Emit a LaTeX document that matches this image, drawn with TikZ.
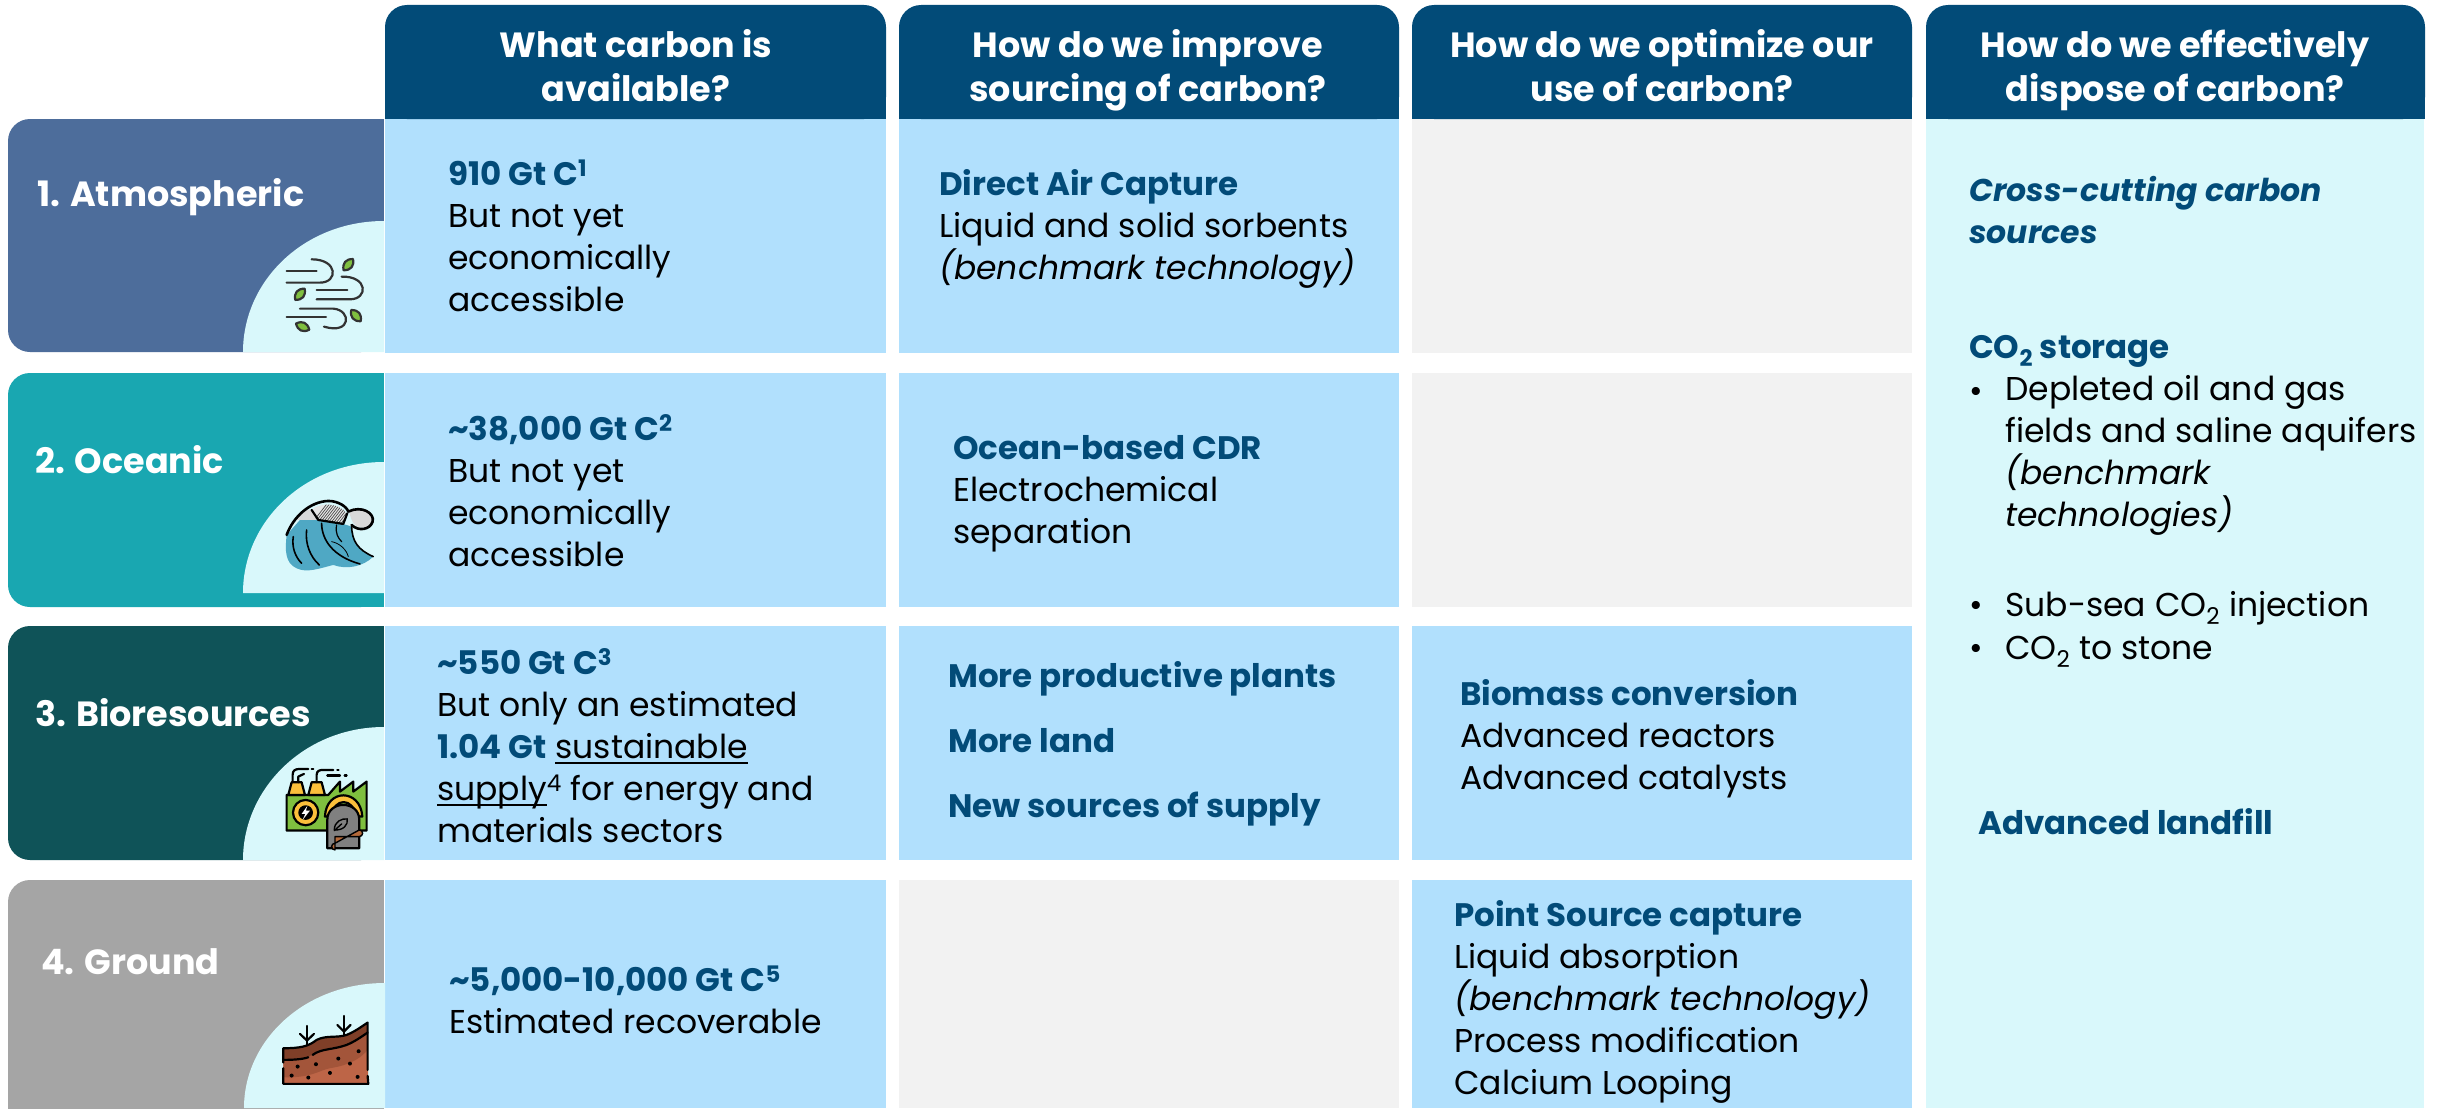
\documentclass[tikz,border=0pt]{standalone}
\usepackage{fontspec}
\setmainfont{Poppins}
\definecolor{hdr}{HTML}{024B78}
\definecolor{cellb}{HTML}{B1E0FD}
\definecolor{cellg}{HTML}{F2F2F2}
\definecolor{panel}{HTML}{D9F8FB}
\definecolor{ratm}{HTML}{4D6D9B}
\definecolor{rocn}{HTML}{19A7B1}
\definecolor{rbio}{HTML}{0F5358}
\definecolor{rgnd}{HTML}{A5A5A5}
\definecolor{leafg}{HTML}{7FBF3F}
\definecolor{wavb}{HTML}{4FA8C4}
\definecolor{yel}{HTML}{FBBF3B}
\definecolor{soila}{HTML}{7F3F28}
\definecolor{soilb}{HTML}{A3553A}
\definecolor{soilc}{HTML}{BD6547}
\newcommand{\bodyfs}{\fontsize{33}{42}\selectfont}
\newcommand{\hdrfs}{\fontsize{35}{44}\selectfont\bfseries}
\newcommand{\rowfs}{\fontsize{35}{40}\selectfont\bfseries}
\newcommand{\hh}[1]{{\fontsize{32.5}{42}\selectfont\bfseries\color{hdr}#1}}
\newcommand{\ulx}[1]{\setbox0\hbox{#1}\rlap{\rule[-5pt]{\wd0}{1.6pt}}\box0 }
\tikzset{
  hdrbox/.style={fill=hdr,rounded corners=22},
  rowbox/.style={rounded corners=22},
  strutted/.style={execute at begin node=\strut,execute at end node=\strut},
  hdrtext/.style={text=white,align=center,font=\hdrfs,inner sep=0,anchor=center,strutted},
  rowtext/.style={text=white,font=\rowfs,inner sep=0,anchor=west,strutted},
  celltext/.style={text=black,align=left,font=\bodyfs,inner sep=0,anchor=west,strutted},
  ic/.style={line width=2.2pt,line cap=round,line join=round},
  zoomed/.style={x=0.3333pt,y=-0.3333pt},
}
\begin{document}
\begin{tikzpicture}[x=1pt,y=-1pt]
\useasboundingbox (0,0) rectangle (2438,1108);
\clip (0,0) rectangle (2438,1108);
\fill[white] (0,0) rectangle (2438,1108);
% right panel
\fill[panel] (1926,118) rectangle (2424,1108);
% body cells
\foreach \x/\w in {385/501,899/500,1412/500}{
  \foreach \y/\h in {119/234,373/234,626/234,880/228}{
    \fill[cellb] (\x,\y) rectangle ++(\w,\h);
  }
}
\fill[cellg] (1412,119) rectangle ++(500,234);
\fill[cellg] (1412,373) rectangle ++(500,234);
\fill[cellg] (899,880) rectangle ++(500,228);
% headers
\foreach \x/\xe in {385/886,899/1399,1412/1912,1926/2425}{
  \fill[hdrbox] (\x,119) -- (\x,5) -- (\xe,5) -- (\xe,119) -- cycle;
  \fill[hdr] (\x,60) rectangle (\xe,119);
}
\node[hdrtext] (h1) at (636,72) {What carbon is\\available?};
\node[hdrtext] (h2) at (1148,72) {How do we improve\\sourcing of carbon?};
\node[hdrtext] (h3) at (1662,72) {How do we optimize our\\use of carbon?};
\node[hdrtext] (h4) at (2175,72) {How do we effectively\\dispose of carbon?};
% rows
\foreach \y/\ye/\c in {119/352/ratm,373/607/rocn,626/860/rbio,880/1130/rgnd}{
  \fill[\c,rowbox] (383,\y) -- (8,\y) -- (8,\ye) -- (383,\ye) -- cycle;
  \fill[\c] (200,\y) rectangle (384,\ye);
}
\fill[panel] (243,352) .. controls (243,280) and (305,221) .. (384,221) -- (384,352) -- cycle;
\fill[panel] (243,593) .. controls (243,521) and (305,462) .. (384,462) -- (384,593) -- cycle;
\fill[panel] (243,860) .. controls (243,788) and (305,727) .. (384,727) -- (384,860) -- cycle;
\fill[panel] (244,1108) .. controls (244,1040) and (305,983) .. (385,983) -- (385,1108) -- cycle;
\node[rowtext] (r1) at (37,198) {1. Atmospheric};
\node[rowtext] (r2) at (35,465) {2. Oceanic};
\node[rowtext] (r3) at (35,718) {3. Bioresources};
\node[rowtext] (r4) at (41,966) {4. Ground};
% wind icon
\begin{scope}[zoomed,shift={(0,300)}]
  \draw[ic,draw=black!80] (860,513)--(950,513);
  \draw[ic,draw=black!80] (860,548)--(960,548) .. controls (1015,548) and (1015,478) .. (935,478);
  \draw[ic,draw=black!80] (950,570)--(1042,570);
  \draw[ic,draw=black!80] (950,598)--(1050,598) .. controls (1105,598) and (1105,528) .. (1025,530);
  \draw[ic,draw=black!80] (860,650)--(978,650);
  \draw[ic,draw=black!80] (900,626)--(1000,626) .. controls (1055,630) and (1055,705) .. (972,680);
  \foreach \a/\b/\r in {1045/494/50,900/583/50,1068/647/-50,908/680/-25}{
    \draw[ic,draw=black!80,fill=leafg,rotate around={\r:(\a,\b)}] (\a-22,\b) .. controls (\a-8,\b-17) and (\a+8,\b-17) .. (\a+22,\b) .. controls (\a+8,\b+17) and (\a-8,\b+17) .. (\a-22,\b) -- cycle;
  }
\end{scope}
% wave icon
\begin{scope}[zoomed,shift={(0,1080)}]
  \fill[wavb] (860,525) .. controls (855,570) and (855,610) .. (890,625) .. controls (920,640) and (960,625) .. (1000,615) .. controls (1040,630) and (1090,620) .. (1120,590) .. controls (1070,570) and (1055,540) .. (1055,500) -- (960,470) -- (900,480) -- cycle;
  \fill[black!15] (870,500) .. controls (890,465) and (915,445) .. (935,450) -- (950,480) -- (890,480) -- cycle;
  \fill[black!15] (1045,450) .. controls (1080,440) and (1120,460) .. (1115,485) .. controls (1105,510) and (1065,510) .. (1055,480) -- cycle;
  \fill[white!90!black] (935,450) .. controls (960,425) and (1020,430) .. (1040,460) -- (1030,490) -- (950,480) -- cycle;
  \begin{scope}
    \clip (935,450) .. controls (960,425) and (1020,430) .. (1040,460) -- (1030,490) -- (950,480) -- cycle;
    \foreach \k in {0,1,...,17}{
      \draw[line width=.7pt,draw=black!70] (920+\k*8,510) -- (990+\k*8,420);
    }
  \end{scope}
  \draw[ic,line width=2.6pt,draw=black] (860,525) .. controls (880,470) and (930,425) .. (985,423) .. controls (1015,423) and (1040,440) .. (1045,455) .. controls (1085,435) and (1125,460) .. (1118,485) .. controls (1110,510) and (1075,515) .. (1055,495);
  \draw[ic,draw=black] (935,450) -- (955,480) -- (1030,492) -- (1042,460);
  \draw[ic,draw=black,line width=1.6pt] (1055,495) .. controls (1055,545) and (1075,570) .. (1120,590);
  \draw[ic,draw=black,line width=1.6pt] (880,530) .. controls (875,560) and (885,590) .. (905,610);
  \draw[ic,draw=black,line width=1.6pt] (920,510) .. controls (915,550) and (930,590) .. (958,615);
  \draw[ic,draw=black,line width=1.6pt] (965,490) .. controls (965,540) and (1000,590) .. (1080,612);
  \draw[ic,draw=black,line width=1.2pt] (1010,495) .. controls (1005,520) and (1015,535) .. (1025,545);
  \draw[ic,draw=black,line width=.8pt] (995,545) .. controls (1020,550) and (1040,570) .. (1045,590);
\end{scope}
% factory icon
\begin{scope}[zoomed,shift={(0,1860)}]
  \draw[ic,fill=leafg] (860,632) -- (860,525) -- (985,525) -- (1020,485) -- (1020,515) -- (1060,485) -- (1060,515) -- (1100,485) -- (1100,632) -- cycle;
  \draw[ic,fill=yel] (865,525) -- (875,487) -- (905,487) -- (915,525) -- cycle;
  \draw[ic,fill=yel] (925,525) -- (935,487) -- (965,487) -- (975,525) -- cycle;
  \draw[ic] (878,487) -- (878,465) .. controls (878,452) and (885,447) .. (900,447) -- (925,447);
  \draw[ic] (895,487) -- (895,470) -- (912,462);
  \draw[ic] (950,487) -- (950,465) .. controls (950,452) and (960,450) .. (970,450) -- (1000,450);
  \draw[ic] (935,447) -- (940,447);
  \draw[ic] (1012,450) -- (1016,450);
  \draw[ic] (982,467) -- (1020,467);
  \draw[ic] (1034,467) -- (1040,467);
  \draw[ic,fill=yel] (917,578) circle[radius=38];
  \fill[black] (917,578) circle[radius=22];
  \fill[white] (922,558) -- (905,582) -- (916,582) -- (908,600) -- (930,572) -- (918,572) -- cycle;
  \draw[ic,fill=yel] (975,590) .. controls (978,505) and (1082,505) .. (1087,590) -- (1067,590) .. controls (1062,532) and (1000,532) .. (995,590) -- cycle;
  \draw[ic,fill=black!50] (982,685) -- (982,600) .. controls (982,540) and (1078,540) .. (1078,600) -- (1078,685) -- cycle;
  \draw[ic,line width=1.4pt,fill=black!50] (1003,630) .. controls (1003,605) and (1025,595) .. (1042,597) .. controls (1045,615) and (1030,632) .. (1003,630) -- cycle;
  \draw[ic,line width=1.4pt] (1003,632) -- (1025,612);
  \draw[ic,line width=1.4pt,fill=soilb!80!yel] (1005,650) -- (1078,650) arc[start angle=90,end angle=-90,radius=10] -- (1005,670) arc[start angle=270,end angle=90,radius=10] -- cycle;
\end{scope}
% soil icon
\begin{scope}[zoomed,shift={(0,2610)}]
  \fill[soilc] (850,535) .. controls (900,535) and (925,530) .. (950,510) .. controls (980,495) and (1010,505) .. (1040,495) .. controls (1065,485) and (1085,470) .. (1103,458) -- (1105,642) -- (850,642) -- cycle;
  \fill[soilb] (850,570) .. controls (900,570) and (925,560) .. (950,545) .. controls (980,525) and (1020,540) .. (1050,520) -- (1103,490) -- (1103,540) .. controls (1070,580) and (1020,590) .. (990,595) .. controls (960,600) and (935,625) .. (850,622) -- cycle;
  \fill[soila] (850,535) .. controls (900,535) and (925,530) .. (950,510) .. controls (980,495) and (1010,505) .. (1040,495) .. controls (1065,485) and (1085,470) .. (1103,458) -- (1103,490) .. controls (1085,500) and (1065,515) .. (1040,525) .. controls (1010,535) and (980,530) .. (950,545) .. controls (925,565) and (900,570) .. (850,570) -- cycle;
  \draw[ic] (850,578) -- (850,535) .. controls (900,535) and (925,530) .. (950,510) .. controls (980,495) and (1010,505) .. (1040,495) .. controls (1065,485) and (1085,470) .. (1103,458) -- (1103,600);
  \draw[ic] (1103,618) -- (1105,642) -- (850,642) -- (850,595);
  \draw[ic] (850,570) .. controls (880,570) and (910,568) .. (925,562);
  \draw[ic] (938,555) .. controls (965,535) and (1000,540) .. (1040,525) .. controls (1065,515) and (1085,500) .. (1103,488);
  \draw[ic] (921,468) -- (921,525);
  \draw[ic] (900,492) -- (921,512) -- (942,492);
  \draw[ic] (1032,438) -- (1032,495);
  \draw[ic] (1012,465) -- (1032,485) -- (1052,465);
  \foreach \a/\b in {893/590,948/583,1015/566,1076/544,1050/581,875/617,925/623,990/609,1073/621}{
    \fill (\a,\b) circle[radius=6];
  }
\end{scope}
% column 1
\node[celltext] (c11) at (448,242) {\hh{910 Gt C\textsuperscript{1}}\\But not yet\\economically\\accessible};
\node[celltext] (c12) at (448,497) {\hh{\textasciitilde 38,000 Gt C\textsuperscript{2}}\\But not yet\\economically\\accessible};
\node[celltext] (c13) at (437,752) {\hh{\textasciitilde 550 Gt C\textsuperscript{3}}\\But only an estimated\\\hh{1.04 Gt} \ulx{sustainable}\\\ulx{supply}\textsuperscript{4} for energy and\\materials sectors};
\node[celltext] (c14) at (449,1006) {\hh{\textasciitilde 5,000-10,000 Gt C\textsuperscript{5}}\\Estimated recoverable};
% column 2
\node[celltext] (c21) at (939,231) {\hh{Direct Air Capture}\\Liquid and solid sorbents\\\textit{(benchmark technology)}};
\node[celltext] (c22) at (953,496) {\hh{Ocean-based CDR}\\Electrochemical\\separation};
\node[celltext,font=\fontsize{32.5}{65}\selectfont] (c23) at (948,749) {{\bfseries\color{hdr}More productive plants}\\{\bfseries\color{hdr}More land}\\{\bfseries\color{hdr}New sources of supply}};
% column 3
\node[celltext] (c33) at (1460,741) {\hh{Biomass conversion}\\Advanced reactors\\Advanced catalysts};
\node[celltext] (c34) at (1454,1004) {\hh{Point Source capture}\\Liquid absorption\\\textit{(benchmark technology)}\\Process modification\\Calcium Looping};
% column 4
\node[celltext,font=\fontsize{31.5}{42}\selectfont\bfseries\itshape,text=hdr] (c41) at (1969,216) {Cross-cutting carbon\\sources};
\node[celltext] (c42) at (1969,350) {\hh{CO\textsubscript{2} storage}};
\node[celltext] (b1) at (1969,394) {•};
\node[celltext] (c43) at (2005,457) {Depleted oil and gas\\fields and saline aquifers\\\textit{(benchmark}\\\textit{technologies)}};
\node[celltext] (b2) at (1969,608) {•};
\node[celltext] (c44) at (2005,608) {Sub-sea CO\textsubscript{2} injection};
\node[celltext] (b3) at (1969,651) {•};
\node[celltext] (c45) at (2005,651) {CO\textsubscript{2} to stone};
\node[celltext] (c46) at (1978,826) {\hh{Advanced landfill}};
\end{tikzpicture}
\end{document}
